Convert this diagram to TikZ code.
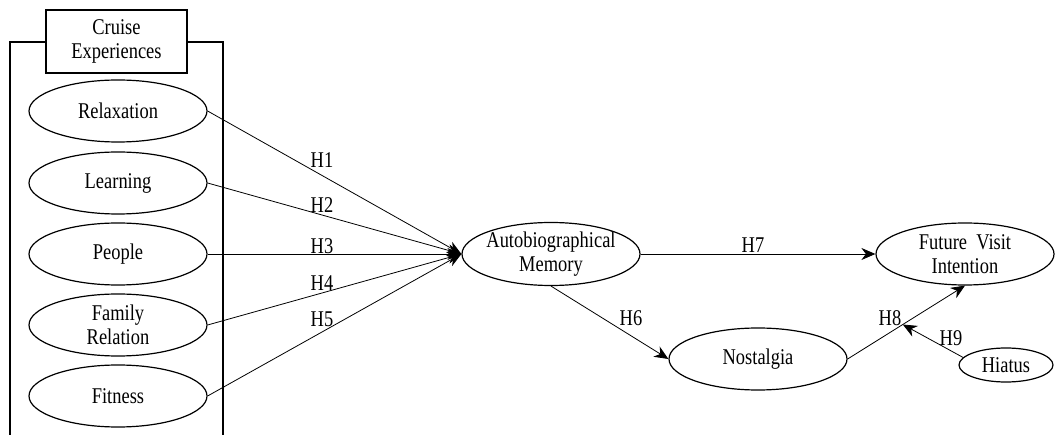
\documentclass[tikz,border=0pt]{standalone}
\usepackage{fontspec}
\setmainfont{Liberation Serif}[FakeStretch=0.82]
\usetikzlibrary{shapes.geometric,arrows.meta}
\begin{document}
\begin{tikzpicture}[x=1pt,y=-1pt,
  font=\fontsize{22.5}{24}\selectfont,
  oval/.style={ellipse, draw, line width=1.2pt, minimum width=178pt, minimum height=62pt, inner sep=-12pt, align=center},
  smalloval/.style={oval, minimum width=94pt, minimum height=34pt},
  titlebox/.style={rectangle, draw, line width=1.2pt, minimum width=141pt, minimum height=63pt, inner sep=0pt, align=center},
  frame/.style={line width=1.2pt},
  conn/.style={line width=0.8pt, -{Stealth[length=14pt,width=12pt,inset=4.5pt]}},
  hlab/.style={inner sep=0pt}
]
\useasboundingbox (0,0) rectangle (1055,435);
% frame
\node[titlebox] (title) at (116.5,41.5) {Cruise\\Experiences};
\draw[frame] (title.west |- 0,42) -- (10,42) -- (10,435);
\draw[frame] (title.east |- 0,42) -- (223,42) -- (223,435);
% left ellipses
\node[oval] (relax) at (118,111) {Relaxation};
\node[oval] (learn) at (118,183) {Learning};
\node[oval] (people) at (118,254) {People};
\node[oval] (family) at (118,325) {Family\\Relation};
\node[oval] (fit) at (118,396) {Fitness};
% others
\node[oval, minimum height=63pt] (auto) at (551,254) {Autobiographical\\Memory};
\node[oval] (fut) at (965,254) {Future~ Visit\\Intention};
\node[oval] (nost) at (758,359) {Nostalgia};
\node[smalloval] (hiat) at (1006,365) {Hiatus};
% connectors
\draw[conn] (relax.east) -- (auto.west);
\draw[conn] (learn.east) -- (auto.west);
\draw[conn] (people.east) -- (auto.west);
\draw[conn] (family.east) -- (auto.west);
\draw[conn] (fit.east) -- (auto.west);
\draw[conn] (auto.east) -- (fut.west);
\draw[conn] (auto.south) -- (nost.west);
\draw[conn] (nost.east) -- coordinate[pos=0.47] (mid) (fut.south);
\draw[conn] (hiat.170) -- (mid);
% labels
\node[hlab] (h1) at (322,160) {H1};
\node[hlab] (h2) at (322,205) {H2};
\node[hlab] (h3) at (322,246) {H3};
\node[hlab] (h4) at (322,283) {H4};
\node[hlab] (h5) at (322,319) {H5};
\node[hlab] (h6) at (631,318) {H6};
\node[hlab] (h7) at (753,245) {H7};
\node[hlab] (h8) at (890,318) {H8};
\node[hlab] (h9) at (951,338) {H9};
\end{tikzpicture}
\end{document}
